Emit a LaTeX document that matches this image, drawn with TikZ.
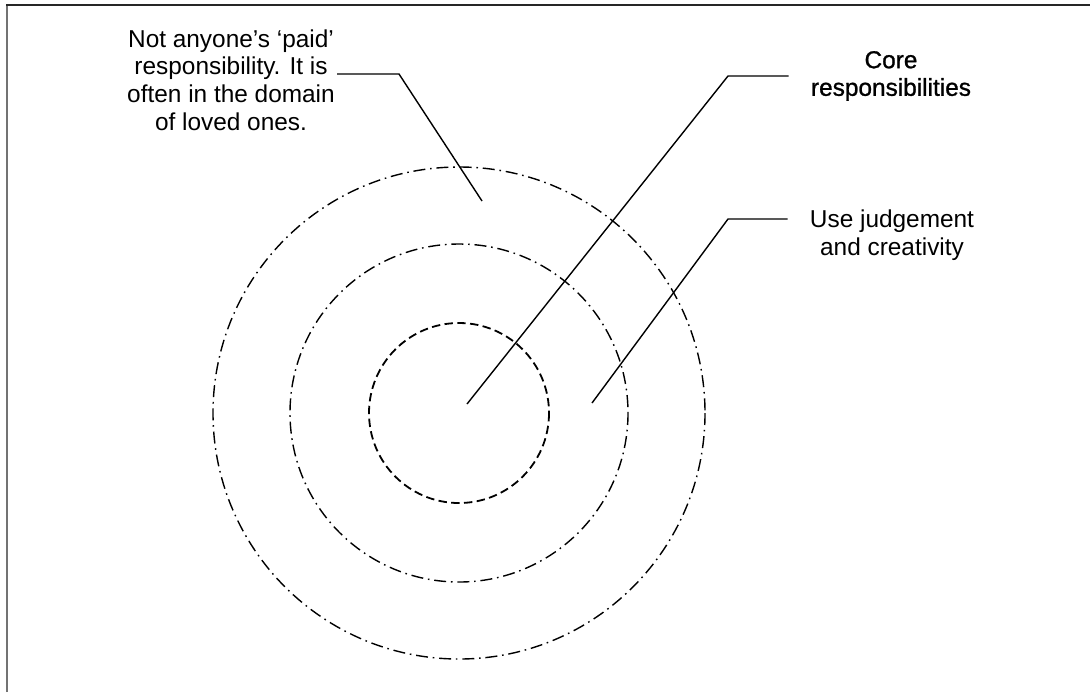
\documentclass[tikz,border=0pt]{standalone}
\usepackage{fontspec}
\setmainfont{Liberation Sans}
\newfontfamily\heavyfont[FakeBold=1]{Liberation Sans}
\usetikzlibrary{positioning,calc}

\begin{document}
\begin{tikzpicture}[
    x=0.5pt, y=-0.5pt,
    caption/.style={align=center, inner sep=0pt, font=\fontsize{12.2}{13.8}\selectfont},
    ring/.style={line width=0.7pt, dash pattern=on 6pt off 2.4pt on 0.8pt off 2.4pt},
    corering/.style={line width=0.9pt, dash pattern=on 4.2pt off 2.2pt},
    callout/.style={draw, line width=0.7pt}
]

\useasboundingbox (0,0) rectangle (1090,692);

% Frame
\draw[black!55, line width=1pt] (6.5,692) -- (6.5,5);
\draw[black!85, line width=1pt] (6,5) -- (1090,5);

% Rings
\coordinate (c) at (459,413);
\draw[ring] (c) circle[radius=246];
\draw[ring] (c) circle[radius=169];
\draw[corering] (c) circle[radius=90];

% Labels
\node[caption] (paid) at (231,80) {Not anyone's `paid'\\responsibility. It is\\often in the domain\\of loved ones.};
\node[caption, font=\fontsize{12.2}{13.8}\heavyfont] (core) at (891,76) {Core\\responsibilities};
\node[caption] (judge) at (892,235) {Use judgement\\and creativity};

% Hook points
\coordinate (paidknee) at (399,74);
\coordinate (paidzone) at (482,201);
\coordinate (coreknee) at (728,76);
\coordinate (corezone) at (467,404);
\coordinate (judgeknee) at (728,219);
\coordinate (judgezone) at (592,403);

% Callouts
\path[callout] ([xshift=1pt]paid.east |- paidknee) -- (paidknee) -- (paidzone);
\path[callout] ([xshift=-11pt]core.west |- coreknee) -- (coreknee) -- (corezone);
\path[callout] ([xshift=-11pt]judge.west |- judgeknee) -- (judgeknee) -- (judgezone);

\end{tikzpicture}
\end{document}
